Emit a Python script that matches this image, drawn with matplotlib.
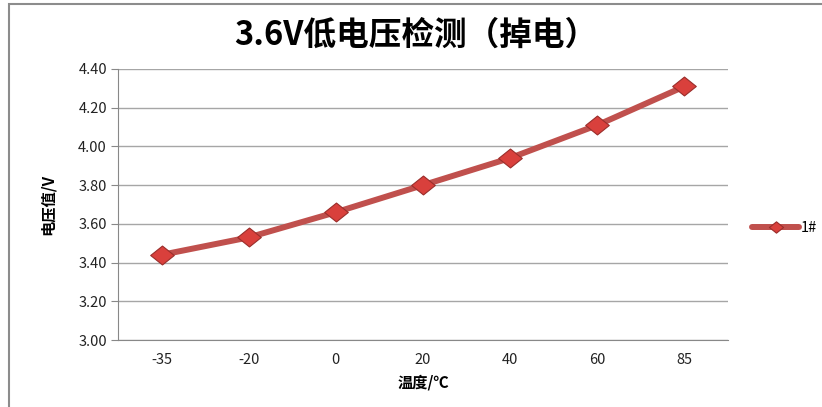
import matplotlib.pyplot as plt
from matplotlib.patches import Rectangle
from matplotlib.path import Path

plt.rcParams['font.family'] = ['Noto Sans CJK SC', 'DejaVu Sans']

# données
temperatures = ["-35", "-20", "0", "20", "40", "60", "85"]
tension_1 = [3.44, 3.53, 3.66, 3.80, 3.94, 4.11, 4.31]
y_ticks = [3.00, 3.20, 3.40, 3.60, 3.80, 4.00, 4.20, 4.40]

rouge = "#C0504D"
losange = Path([(-1, 0), (0, 0.8), (1, 0), (0, -0.8), (-1, 0)],
               [Path.MOVETO, Path.LINETO, Path.LINETO, Path.LINETO, Path.CLOSEPOLY])

fig = plt.figure(figsize=(8.22, 4.07), dpi=100)
ax = fig.add_axes([118 / 822, 1 - 340 / 407, 610 / 822, 271 / 407])

x = list(range(len(temperatures)))
ax.plot(x, tension_1, color=rouge, linewidth=4.3, marker=losange, markersize=17,
        markerfacecolor="#D9403C", markeredgecolor="#9A2E2B", markeredgewidth=0.8,
        label="1#", solid_capstyle="round", zorder=3)

ax.set_xlim(-0.5, len(temperatures) - 0.5)
ax.set_ylim(3.0, 4.4)
ax.set_xticks(x)
ax.set_xticklabels(temperatures)
ax.set_yticks(y_ticks)
ax.set_yticklabels([f"{v:.2f}" for v in y_ticks])
ax.tick_params(axis="x", length=0, pad=9, labelsize=10.5, labelcolor="#222222")
ax.tick_params(axis="y", length=5, color="#888888", pad=3, labelsize=10.5, labelcolor="#222222")
ax.grid(axis="y", color="#A6A6A6", linewidth=1)
ax.set_axisbelow(True)
for cote in ["top", "right"]:
    ax.spines[cote].set_visible(False)
ax.spines["left"].set_color("#888888")
ax.spines["bottom"].set_color("#888888")

ax.set_xlabel("温度/℃", fontsize=11, fontweight="bold", labelpad=6)
ax.set_ylabel("电压值/V", fontsize=11, fontweight="bold", labelpad=16)
fig.text(416 / 822, 1 - 35 / 407, "3.6V低电压检测（掉电）", ha="center", va="center",
         fontsize=23.5, fontweight="bold")

ax.legend(loc="center left", bbox_to_anchor=(745 / 822, 1 - 228 / 407),
          bbox_transform=fig.transFigure, frameon=False, fontsize=10.5,
          handlelength=3.2, handletextpad=0.1, borderpad=0, markerscale=0.6)

# cadre gris autour du graphique
fig.patches.append(Rectangle((9 / 822, -0.1), 1.1, 1.1 - 4 / 407, transform=fig.transFigure,
                             fill=False, edgecolor="#8C8C8C", linewidth=1.5))

plt.savefig("out.png", dpi=100)
plt.close()
